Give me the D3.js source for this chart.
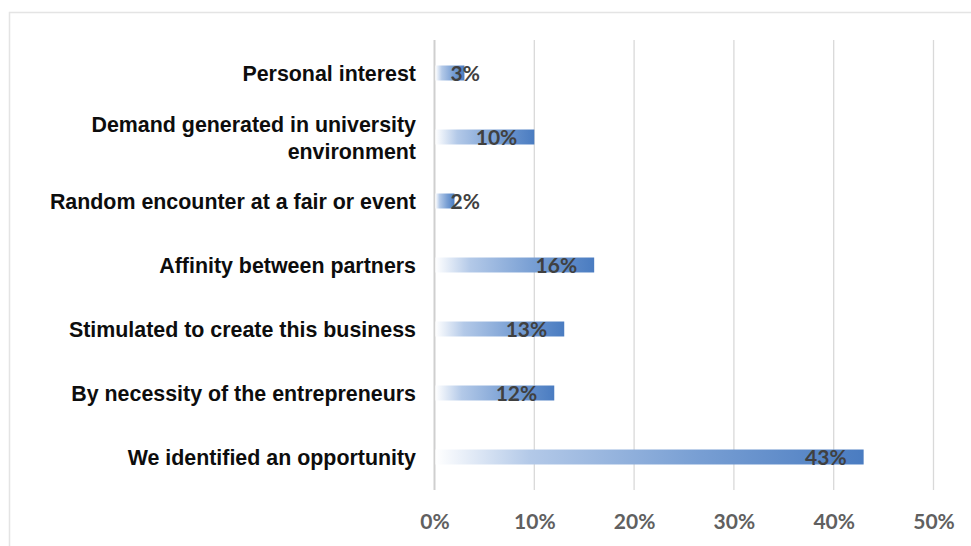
<!DOCTYPE html>
<html>
<head>
<meta charset="utf-8">
<script src="https://cdn.jsdelivr.net/npm/d3@7"></script>
<style>
  html, body { margin: 0; padding: 0; background: #ffffff; }
  svg { display: block; }
</style>
</head>
<body>
<svg id="chart" width="971" height="546"></svg>
<script>
// Reasons for creating the business (share of respondents)
const categories = [
  "Personal interest",
  "Demand generated in university environment",
  "Random encounter at a fair or event",
  "Affinity between partners",
  "Stimulated to create this business",
  "By necessity of the entrepreneurs",
  "We identified an opportunity"
];
const categoryLines = [
  ["Personal interest"],
  ["Demand generated in university", "environment"],
  ["Random encounter at a fair or event"],
  ["Affinity between partners"],
  ["Stimulated to create this business"],
  ["By necessity of the entrepreneurs"],
  ["We identified an opportunity"]
];
const values = [0.03, 0.10, 0.02, 0.16, 0.13, 0.12, 0.43];
const tickValues = [0, 0.1, 0.2, 0.3, 0.4, 0.5];

const svg = d3.select("#chart");

// light frame around the chart area
svg.append("rect")
  .attr("x", 9.5).attr("y", 12.5)
  .attr("width", 1000).attr("height", 600)
  .attr("fill", "none")
  .attr("stroke", "#e4e4e4")
  .attr("stroke-width", 1.5);

const x = d3.scaleLinear().domain([0, 0.5]).range([434.5, 933.5]);
const y = d3.scaleBand().domain(categories).range([41, 489])
  .paddingInner(0.766).paddingOuter(0.383);

// bar fill: fades from white at the base to blue at the tip
const defs = svg.append("defs");
const grad = defs.append("linearGradient")
  .attr("id", "barFill")
  .attr("x1", "0").attr("y1", "0").attr("x2", "1").attr("y2", "0");
grad.append("stop").attr("offset", "0").attr("stop-color", "#ffffff");
grad.append("stop").attr("offset", "0.22").attr("stop-color", "#b3c9e8");
grad.append("stop").attr("offset", "0.6").attr("stop-color", "#7aa0d4");
grad.append("stop").attr("offset", "1").attr("stop-color", "#4a7cc1");

// vertical gridlines
svg.append("g")
  .selectAll("line")
  .data(tickValues)
  .join("line")
  .attr("x1", d => x(d)).attr("x2", d => x(d))
  .attr("y1", 40).attr("y2", 490)
  .attr("stroke", d => d === 0 ? "#cfcfcf" : "#d9d9d9")
  .attr("stroke-width", d => d === 0 ? 2 : 1.3);

// x axis labels
const xAxis = d3.axisBottom(x)
  .tickValues(tickValues)
  .tickFormat(d3.format(".0%"))
  .tickSize(0)
  .tickPadding(0);
const gx = svg.append("g")
  .attr("transform", "translate(0,522)")
  .call(xAxis);
gx.select(".domain").remove();
gx.selectAll("text")
  .attr("dy", "0.35em")
  .attr("font-family", "Lato, 'Open Sans', sans-serif")
  .attr("font-weight", 700)
  .attr("font-size", 21)
  .attr("fill", "#606060");

// bars
svg.append("g")
  .selectAll("rect")
  .data(values)
  .join("rect")
  .attr("x", x(0) + 1)
  .attr("y", (d, i) => y(categories[i]))
  .attr("width", d => x(d) - x(0) - 1)
  .attr("height", y.bandwidth())
  .attr("fill", "url(#barFill)");

// category labels, right aligned next to the axis
const catG = svg.append("g");
categoryLines.forEach((lines, i) => {
  const cy = y(categories[i]) + y.bandwidth() / 2;
  const lh = 27;
  const t = catG.append("text")
    .attr("text-anchor", "end")
    .attr("font-family", "'Liberation Sans', Arial, sans-serif")
    .attr("font-weight", 700)
    .attr("font-size", 21.4)
    .attr("fill", "#0d0d0d");
  lines.forEach((ln, k) => {
    t.append("tspan")
      .attr("x", 416)
      .attr("y", cy - (lines.length - 1) * lh / 2 + k * lh + 1)
      .attr("dy", "0.35em")
      .text(ln);
  });
});

// value labels near the end of each bar
const lab = svg.append("g")
  .selectAll("text")
  .data(values)
  .join("text")
  .attr("text-anchor", "end")
  .attr("dy", "0.36em")
  .attr("y", (d, i) => y(categories[i]) + y.bandwidth() / 2)
  .attr("font-family", "Lato, 'Open Sans', sans-serif")
  .attr("font-weight", 700)
  .attr("font-size", 21)
  .attr("fill", "#404040")
  .text(d => d3.format(".0%")(d));
lab.attr("x", function(d) {
  const w = this.getComputedTextLength();
  return Math.max(x(d) - 17, x(0) + 16 + w);
});
</script>
</body>
</html>
